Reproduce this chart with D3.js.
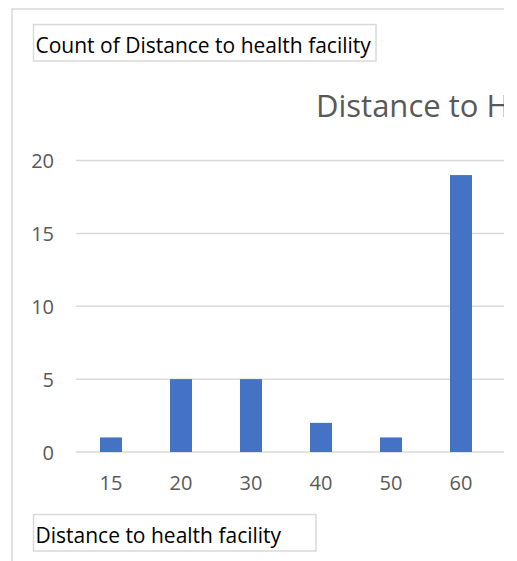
<!DOCTYPE html>
<html>
<head>
<meta charset="utf-8">
<script src="https://cdn.jsdelivr.net/npm/d3@7/dist/d3.min.js"></script>
<style>
  html, body { margin: 0; padding: 0; background: #fff; }
  svg { display: block; }
  text { font-family: "Open Sans", "Noto Sans", sans-serif; }
</style>
</head>
<body>
<div id="chart"></div>
<script>
// Pivot chart: count of records per distance to health facility
const categories = ["15", "20", "30", "40", "50", "60"];
const counts = [1, 5, 5, 2, 1, 19];
const yTicks = [0, 5, 10, 15, 20];
const chartTitle = "Distance to Health facility";
const valueButton = "Count of Distance to health facility";
const axisButton = "Distance to health facility";

const W = 517, H = 561;
const view = { left: 12, top: 9, right: 504 };   // visible chart-area edges
const plot = { left: 76, right: 496, top: 160.5, bottom: 452 };

const svg = d3.select("#chart").append("svg")
  .attr("width", W).attr("height", H);

svg.append("rect").attr("width", W).attr("height", H).attr("fill", "#fff");

svg.append("defs").append("clipPath").attr("id", "area")
  .append("rect").attr("x", 0).attr("y", 0)
  .attr("width", view.right).attr("height", H);

const g = svg.append("g").attr("clip-path", "url(#area)");

// chart-area border (left and top edges)
g.append("path")
  .attr("d", `M${view.left},${H} V${view.top} H${view.right + 2}`)
  .attr("fill", "none").attr("stroke", "#d9d9d9").attr("stroke-width", 1.5);

const x = d3.scaleBand().domain(categories)
  .range([plot.left, plot.right]).paddingInner(0.686).paddingOuter(0.343);
const y = d3.scaleLinear().domain([0, 20]).range([plot.bottom, plot.top]);

// horizontal gridlines
g.append("g").selectAll("line").data(yTicks).join("line")
  .attr("x1", plot.left).attr("x2", view.right + 2)
  .attr("y1", d => y(d)).attr("y2", d => y(d))
  .attr("stroke", "#d9d9d9").attr("stroke-width", 1.5);

// y axis labels
const yAxis = d3.axisLeft(y).tickValues(yTicks).tickSize(0).tickPadding(0);
const ya = g.append("g").attr("transform", "translate(54,0)").call(yAxis);
ya.select(".domain").remove();
ya.selectAll("text").attr("font-size", 20).attr("fill", "#595959")
  .attr("font-family", "'Open Sans', sans-serif").attr("dy", "0.36em");

// bars
g.append("g").selectAll("rect").data(counts).join("rect")
  .attr("x", (d, i) => x(categories[i]))
  .attr("width", x.bandwidth())
  .attr("y", d => y(d))
  .attr("height", d => y(0) - y(d))
  .attr("fill", "#4472c4");

// x axis labels
const xAxis = d3.axisBottom(x).tickSize(0).tickPadding(0);
const xa = g.append("g").attr("transform", `translate(0,${plot.bottom})`).call(xAxis);
xa.select(".domain").remove();
xa.selectAll("text").attr("font-size", 20).attr("fill", "#595959")
  .attr("font-family", "'Open Sans', sans-serif").attr("y", 37.5).attr("dy", 0);

// chart title (runs past the visible edge of the chart area)
g.append("text").attr("x", 316).attr("y", 117)
  .attr("font-size", 31).attr("fill", "#595959")
  .text(chartTitle);

// field buttons
function fieldButton(label, bx, by, bw, bh, baseline) {
  const b = g.append("g");
  b.append("rect").attr("x", bx).attr("y", by).attr("width", bw).attr("height", bh)
    .attr("fill", "#fff").attr("stroke", "#d9d9d9").attr("stroke-width", 1.5);
  const t = b.append("text").attr("x", bx + 2).attr("y", baseline)
    .attr("font-size", 21).attr("fill", "#000").text(label);
  const target = bw - 5;
  if (t.node().getComputedTextLength() > target) {
    t.attr("textLength", target).attr("lengthAdjust", "spacingAndGlyphs");
  }
}
fieldButton(valueButton, 33.5, 24.5, 342.5, 36.5, 53);
fieldButton(axisButton, 33.5, 514.5, 282.5, 36.5, 543);
</script>
</body>
</html>
